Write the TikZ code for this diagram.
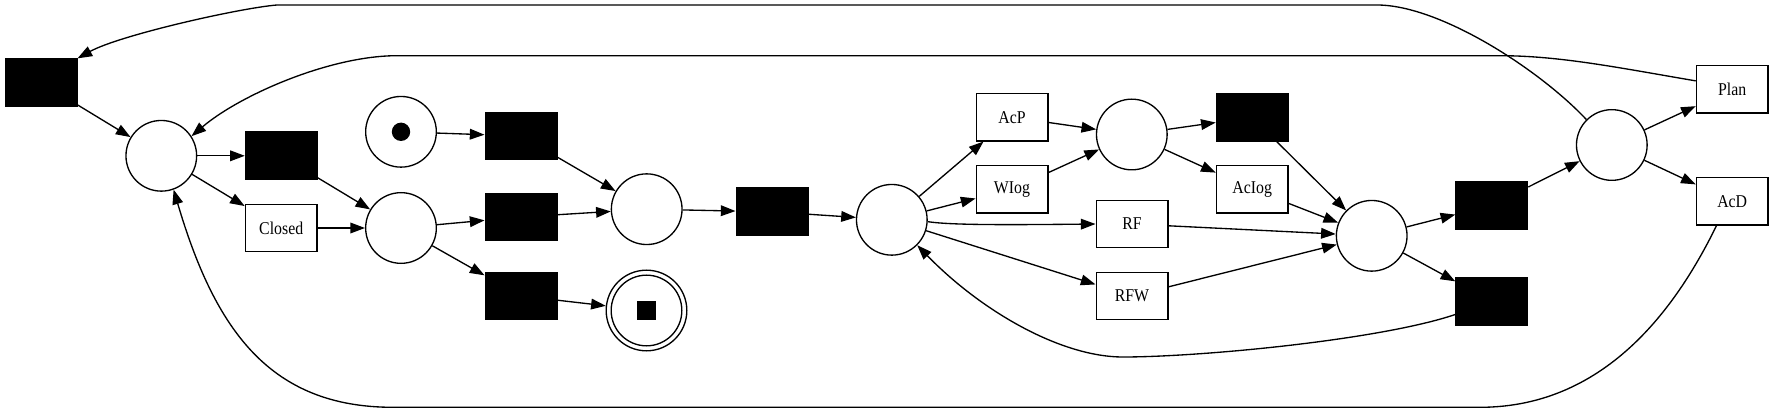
\documentclass[tikz,border=0pt]{standalone}
\usepackage{fontspec}
\usepackage{graphicx}
\setmainfont{Liberation Serif}
\usetikzlibrary{arrows.meta}
\tikzset{
  place/.style={circle, draw=black, fill=white, line width=1pt, minimum size=53pt, inner sep=0pt},
  hidtr/.style={rectangle, draw=black, fill=black, line width=1pt, minimum width=53.75pt, minimum height=35.5pt, inner sep=0pt},
  vistr/.style={rectangle, draw=black, fill=white, line width=1pt, minimum width=53.75pt, minimum height=35.5pt, inner sep=0pt, font=\fontsize{13.5}{16}\selectfont},
  arc/.style={line width=1pt, -{Triangle[length=11pt, width=8pt]}},
  plain/.style={line width=1pt},
}
\newcommand{\lbl}[1]{\scalebox{0.88}[1]{#1}}
\begin{document}
\begin{tikzpicture}[x=0.75pt, y=-0.75pt]
\useasboundingbox (0,0) rectangle (1773,413);
% nodes
\node[hidtr] (t1) at (41,82.7) {};
\node[place] (p1) at (161.3,155.8) {};
\node[hidtr] (t2) at (281.3,155.8) {};
\node[vistr] (closed) at (281.2,228) {\lbl{Closed}};
\node[place] (ps) at (401,131.8) {};
\node[place] (p2) at (401,228) {};
\node[hidtr] (t3) at (521,136) {};
\node[hidtr] (t4) at (521,217) {};
\node[hidtr] (t5) at (521,296) {};
\node[place] (p3) at (646.7,209.2) {};
\node[place, minimum size=60.5pt] (pe) at (646.5,310.5) {};
\node[hidtr] (t6) at (772,211.8) {};
\node[place] (p4) at (891.8,219.8) {};
\node[vistr] (acp) at (1012,117.2) {\lbl{AcP}};
\node[vistr] (wlog) at (1012,189.2) {\lbl{WIog}};
\node[place] (p5) at (1131.8,134.5) {};
\node[vistr] (rf) at (1132,224) {\lbl{RF}};
\node[vistr] (rfw) at (1132,296) {\lbl{RFW}};
\node[hidtr] (t7) at (1252.2,117.3) {};
\node[vistr] (aclog) at (1252.2,189.2) {\lbl{AcIog}};
\node[place] (p6) at (1371.7,235.8) {};
\node[hidtr] (t8) at (1491.8,205.3) {};
\node[hidtr] (t9) at (1491.8,301.2) {};
\node[place] (p7) at (1611.8,145) {};
\node[vistr] (plan) at (1732.2,89.3) {\lbl{Plan}};
\node[vistr] (acd) at (1732.2,201.5) {\lbl{AcD}};
% marks
\fill[black] (ps.center) circle[radius=6.9pt];
\draw[plain] (pe.center) circle[radius=26.5pt];
\node[fill=black, minimum size=14.8pt, inner sep=0pt] (pesq) at (pe.center) {};
% arcs
\draw[arc] (t1) -- (p1);
\draw[arc] (p1) -- (t2);
\draw[arc] (p1) -- (closed);
\draw[arc] (t2) -- (p2);
\draw[arc] (closed) -- (p2);
\draw[arc] (ps) -- (t3);
\draw[arc] (p2) -- (t4);
\draw[arc] (p2) -- (t5);
\draw[arc] (t3) -- (p3);
\draw[arc] (t4) -- (p3);
\draw[arc] (t5) -- (pe);
\draw[arc] (p3) -- (t6);
\draw[arc] (t6) -- (p4);
\draw[arc] (p4) -- (acp);
\draw[arc] (p4) -- (wlog);
\draw[arc] (p4.-3) .. controls (950,225) and (1000,225) .. (rf.west);
\draw[arc] (p4) -- (rfw);
\draw[arc] (acp) -- (p5);
\draw[arc] (wlog) -- (p5);
\draw[arc] (p5) -- (t7);
\draw[arc] (p5) -- (aclog);
\draw[arc] (t7) -- (p6);
\draw[arc] (aclog) -- (p6);
\draw[arc] (rf) -- (p6);
\draw[arc] (rfw) -- (p6);
\draw[arc] (p6) -- (t8);
\draw[arc] (p6) -- (t9);
\draw[arc] (t8) -- (p7);
\draw[arc] (p7) -- (plan);
\draw[arc] (p7) -- (acd);
% long back arcs
\draw[arc] (t9.200) .. controls (1380,340) and (1200,357) .. (1123,357)
  .. controls (1060,357) and (980,310) .. (p4.-45);
\draw[arc] (p7.135) .. controls (1540,70) and (1440,5) .. (1377,5)
  -- (277,5) .. controls (240,8) and (120,35) .. (t1.north east);
\draw[arc] (plan.167) .. controls (1620,68) and (1560,55.7) .. (1500,55.7)
  -- (397,55.7) .. controls (330,55.7) and (240,95) .. (p1.33);
\draw[arc] (acd.237) .. controls (1680,300) and (1610,407.3) .. (1480,407.3)
  -- (393,407.3) .. controls (270,407.3) and (215,330) .. (p1.-70);
\end{tikzpicture}
\end{document}
